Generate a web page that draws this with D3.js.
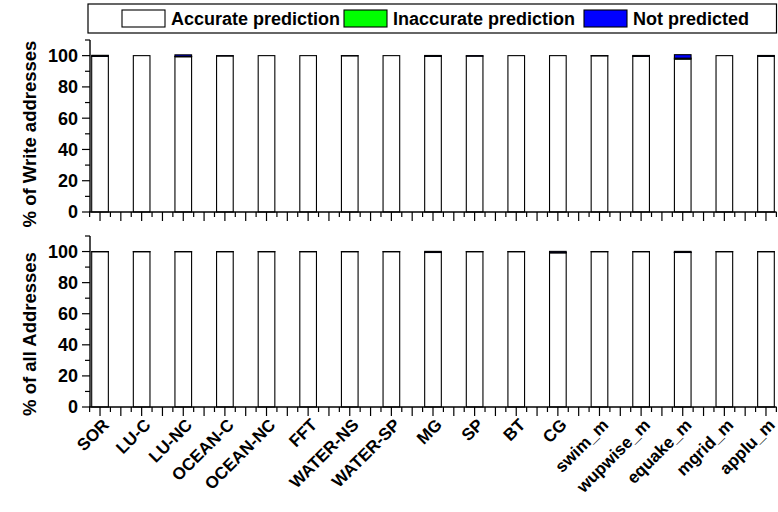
<!DOCTYPE html>
<html>
<head>
<meta charset="utf-8">
<script src="https://cdn.jsdelivr.net/npm/d3@7"></script>
<style>
  html, body { margin: 0; padding: 0; background: #fff; }
  svg text { font-family: "Liberation Sans", Arial, sans-serif; font-weight: bold; }
</style>
</head>
<body>
<svg id="chart" width="778" height="512"></svg>
<script>
const categories = ["SOR", "LU-C", "LU-NC", "OCEAN-C", "OCEAN-NC", "FFT", "WATER-NS", "WATER-SP",
  "MG", "SP", "BT", "CG", "swim_m", "wupwise_m", "equake_m", "mgrid_m", "applu_m"];

// % of Write addresses
const writeAccurate     = [99.6, 100, 99.3, 99.8, 100, 100, 99.9, 100, 99.6, 99.7, 100, 100, 99.9, 99.6, 97.8, 100, 99.6];
const writeInaccurate   = [0.1, 0, 0.2, 0, 0, 0, 0, 0, 0.1, 0, 0, 0, 0, 0.1, 0.6, 0, 0.1];
const writeNotPredicted = [0.5, 0, 1.0, 0.2, 0, 0, 0.1, 0, 0.4, 0.3, 0, 0, 0.1, 0.4, 2.2, 0, 0.4];

// % of all Addresses
const allAccurate     = [99.9, 99.9, 99.9, 99.9, 99.9, 99.9, 99.9, 99.9, 99.4, 99.9, 99.9, 99.2, 99.9, 99.9, 99.4, 99.9, 99.9];
const allInaccurate   = [0, 0, 0, 0, 0, 0, 0, 0, 0.1, 0, 0, 0.1, 0, 0, 0.1, 0, 0];
const allNotPredicted = [0.1, 0.1, 0.1, 0.1, 0.1, 0.1, 0.1, 0.1, 0.6, 0.1, 0.1, 0.8, 0.1, 0.1, 0.6, 0.1, 0.1];

const seriesNames = ["Accurate prediction", "Inaccurate prediction", "Not predicted"];
const seriesColors = ["#ffffff", "#00ff00", "#0000ff"];
const yMajorTicks = [0, 20, 40, 60, 80, 100];
const yMinorTicks = [10, 30, 50, 70, 90, 110];
const yTitles = ["% of Write addresses", "% of all Addresses"];

const svg = d3.select("#chart");

const x = d3.scaleBand().domain(categories).range([91.7, 774.3]).paddingInner(0.6).paddingOuter(0);
const step = x.step(), bw = x.bandwidth();
const axisLeft = 90, axisRight = 776.5;

const panels = [
  { acc: writeAccurate, inacc: writeInaccurate, notp: writeNotPredicted, y0: 212, y1: 40, title: yTitles[0], titleY: 134, labels: false },
  { acc: allAccurate, inacc: allInaccurate, notp: allNotPredicted, y0: 407, y1: 236, title: yTitles[1], titleY: 334, labels: true }
];

panels.forEach(p => {
  const y = d3.scaleLinear().domain([0, 110]).range([p.y0, p.y1]);
  const g = svg.append("g");
  const rows = categories.map((c, i) => ({ cat: c, a: p.acc[i], b: p.inacc[i], n: p.notp[i] }));
  const stack = d3.stack().keys(["a", "b", "n"])(rows);

  stack.forEach((s, si) => {
    g.selectAll(null).data(s.filter(d => d[1] - d[0] > 0)).enter().append("rect")
      .attr("x", d => x(d.data.cat))
      .attr("width", bw)
      .attr("y", d => y(d[1]))
      .attr("height", d => Math.max(0, y(d[0]) - y(d[1])))
      .attr("fill", seriesColors[si])
      .attr("stroke", "#000")
      .attr("stroke-width", 1.1);
  });

  // Y axis
  g.append("line").attr("x1", axisLeft).attr("x2", axisLeft).attr("y1", y(0)).attr("y2", y(110))
    .attr("stroke", "#000").attr("stroke-width", 1.4);
  yMajorTicks.forEach(t => {
    g.append("line").attr("x1", axisLeft - 8).attr("x2", axisLeft).attr("y1", y(t)).attr("y2", y(t))
      .attr("stroke", "#000").attr("stroke-width", 1.2);
    g.append("text").attr("x", 78).attr("y", y(t)).attr("dy", "0.36em")
      .attr("text-anchor", "end").attr("font-size", 18).text(t);
  });
  yMinorTicks.forEach(t => {
    g.append("line").attr("x1", axisLeft - 5).attr("x2", axisLeft).attr("y1", y(t)).attr("y2", y(t))
      .attr("stroke", "#000").attr("stroke-width", 1.2);
  });

  // X axis
  g.append("line").attr("x1", axisLeft - 1).attr("x2", axisRight).attr("y1", y(0)).attr("y2", y(0))
    .attr("stroke", "#000").attr("stroke-width", 1.4);
  categories.forEach(c => {
    const cx = x(c) + bw / 2;
    [[cx, 9], [cx + step / 2, 9], [cx - step / 4, 5], [cx + step / 4, 5]].forEach(([tx, len]) => {
      if (tx < axisLeft - 2 || tx > axisRight + 0.5) return;
      g.append("line").attr("x1", tx).attr("x2", tx).attr("y1", y(0)).attr("y2", y(0) + len)
        .attr("stroke", "#000").attr("stroke-width", 1.2);
    });
    if (p.labels) {
      const px = cx + 10, py = y(0) + 19;
      g.append("text")
        .attr("x", px).attr("y", py)
        .attr("transform", "rotate(-45," + px + "," + py + ")")
        .attr("text-anchor", "end").attr("font-size", 17).text(c);
    }
  });

  // Y title
  const tx = 36, ty = p.titleY;
  g.append("text")
    .attr("x", tx).attr("y", ty)
    .attr("transform", "rotate(-90," + tx + "," + ty + ")")
    .attr("text-anchor", "middle").attr("font-size", 18.5).text(p.title);
});

// Legend
const lg = svg.append("g");
lg.append("rect").attr("x", 88).attr("y", 4).attr("width", 688.5).attr("height", 29)
  .attr("fill", "#fff").attr("stroke", "#000").attr("stroke-width", 1.2);
const legendX = [122, 344, 584];
seriesNames.forEach((n, i) => {
  lg.append("rect").attr("x", legendX[i]).attr("y", 10).attr("width", 43).attr("height", 17)
    .attr("fill", seriesColors[i]).attr("stroke", "#000").attr("stroke-width", 1.1);
  lg.append("text").attr("x", legendX[i] + 49).attr("y", 24.5).attr("font-size", 18).text(n);
});
</script>
</body>
</html>
